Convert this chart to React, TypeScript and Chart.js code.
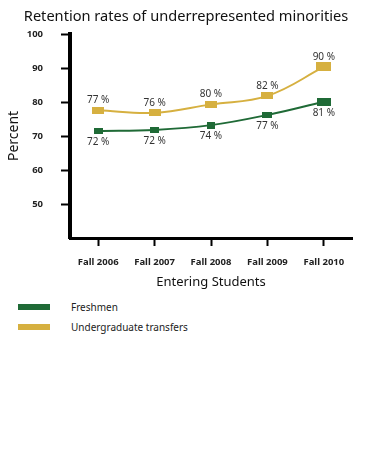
import React, { useEffect, useRef } from "react";
import { Chart, registerables } from "chart.js";

Chart.register(...registerables);

const TITLE = "Retention rates of underrepresented minorities";
const categories = ["Fall 2006", "Fall 2007", "Fall 2008", "Fall 2009", "Fall 2010"];
const freshmen = [71.5, 71.8, 73.2, 76.2, 80.1];
const transfers = [77.6, 76.8, 79.3, 81.8, 90.3];
const freshmenLabels = ["72 %", "72 %", "74 %", "77 %", "81 %"];
const transferLabels = ["77 %", "76 %", "80 %", "82 %", "90 %"];
const yTicks = [40, 50, 60, 70, 80, 90, 100];
const seriesNames = ["Freshmen", "Undergraduate transfers"];

const GREEN = "#1f6a36";
const GOLD = "#d6b040";
const FONT = "'Noto Sans', 'Open Sans', sans-serif";

function rectMarker(w: number, h: number, color: string) {
  const c = document.createElement("canvas");
  c.width = w;
  c.height = h;
  const g = c.getContext("2d")!;
  g.fillStyle = color;
  g.fillRect(0, 0, w, h);
  return c;
}

const valueLabels = {
  id: "valueLabels",
  afterDatasetsDraw(chart: any) {
    const ctx = chart.ctx;
    ctx.save();
    ctx.font = `10px ${FONT}`;
    ctx.fillStyle = "#333";
    ctx.textAlign = "center";
    ctx.textBaseline = "middle";
    const sets = [
      { idx: 0, labels: freshmenLabels, dy: 11 },
      { idx: 1, labels: transferLabels, dy: -10 },
    ];
    sets.forEach((s) => {
      const meta = chart.getDatasetMeta(s.idx);
      meta.data.forEach((pt: any, i: number) => {
        ctx.fillText(s.labels[i], pt.x, pt.y + s.dy);
      });
    });
    ctx.restore();
  },
};

export default function App() {
  const ref = useRef<HTMLCanvasElement>(null);
  useEffect(() => {
    const fm = [rectMarker(9, 6, GREEN), rectMarker(9, 6, GREEN), rectMarker(8, 7, GREEN), rectMarker(10, 6, GREEN), rectMarker(14, 8, GREEN)];
    const tm = [rectMarker(12, 7, GOLD), rectMarker(12, 7, GOLD), rectMarker(12, 7, GOLD), rectMarker(12, 7, GOLD), rectMarker(15, 9, GOLD)];
    const chart = new Chart(ref.current!, {
      type: "line",
      data: {
        labels: categories,
        datasets: [
          {
            label: seriesNames[0],
            data: freshmen,
            borderColor: GREEN,
            backgroundColor: GREEN,
            borderWidth: 2,
            tension: 0.4,
            pointStyle: fm as any,
            pointRadius: 5,
          },
          {
            label: seriesNames[1],
            data: transfers,
            borderColor: GOLD,
            backgroundColor: GOLD,
            borderWidth: 2,
            tension: 0.4,
            pointStyle: tm as any,
            pointRadius: 5,
          },
        ],
      },
      options: {
        responsive: false,
        animation: false,
        layout: { padding: { left: 0, right: 15, top: 34, bottom: 0 } },
        plugins: {
          legend: { display: false },
          tooltip: { enabled: false },
          title: { display: false },
        },
        scales: {
          x: {
            type: "category",
            offset: true,
            afterFit: (s: any) => {
              s.height = 62;
            },
            grid: {
              display: true,
              drawOnChartArea: false,
              offset: false,
              tickLength: 8,
              tickWidth: 2,
              color: "#000",
            },
            border: { display: true, color: "#000", width: 3 },
            ticks: {
              color: "#222",
              padding: 11,
              font: { family: FONT, size: 9.5, weight: "bold" },
              maxRotation: 0,
            },
            title: {
              display: true,
              text: "Entering Students",
              color: "#111",
              font: { family: FONT, size: 13 },
              padding: { top: 0, bottom: 10 },
            },
          },
          y: {
            min: 40,
            max: 100,
            afterFit: (s: any) => {
              s.width = 70;
            },
            afterBuildTicks: (s: any) => {
              s.ticks = yTicks.map((v) => ({ value: v }));
            },
            grid: {
              display: true,
              drawOnChartArea: false,
              tickLength: 9,
              tickWidth: 2,
              color: (c: any) => (c.tick && c.tick.value === 40 ? "rgba(0,0,0,0)" : "#000"),
            },
            border: { display: true, color: "#000", width: 4 },
            ticks: {
              color: "#222",
              padding: 18,
              font: { family: FONT, size: 9.5, weight: "bold" },
              callback: (v: any) => (v === 40 ? "" : String(v)),
            },
            title: {
              display: true,
              text: "Percent",
              color: "#111",
              font: { family: FONT, size: 14 },
              padding: { top: 6, bottom: 0 },
            },
          },
        },
      },
      plugins: [valueLabels],
    });
    return () => chart.destroy();
  }, []);

  const legendRow = (color: string, text: string, top: number) => (
    <div style={{ position: "absolute", left: 0, top, width: 367, height: 12 }}>
      <div style={{ position: "absolute", left: 18, top: 3, width: 32, height: 6, background: color }} />
      <div
        style={{
          position: "absolute",
          left: 71,
          top: 0,
          lineHeight: "12px",
          fontSize: 10,
          fontFamily: FONT,
          color: "#222",
          whiteSpace: "nowrap",
        }}
      >
        {text}
      </div>
    </div>
  );

  return (
    <div style={{ position: "absolute", left: 0, top: 0, width: 367, height: 475, background: "#fff" }}>
      <canvas ref={ref} width={367} height={300} style={{ display: "block" }} />
      <div
        style={{
          position: "absolute",
          left: 0,
          top: 5,
          width: 372,
          textAlign: "center",
          fontFamily: FONT,
          fontSize: 14.6,
          lineHeight: "20px",
          color: "#111",
          whiteSpace: "nowrap",
        }}
      >
        {TITLE}
      </div>
      {legendRow(GREEN, seriesNames[0], 301)}
      {legendRow(GOLD, seriesNames[1], 321)}
    </div>
  );
}
